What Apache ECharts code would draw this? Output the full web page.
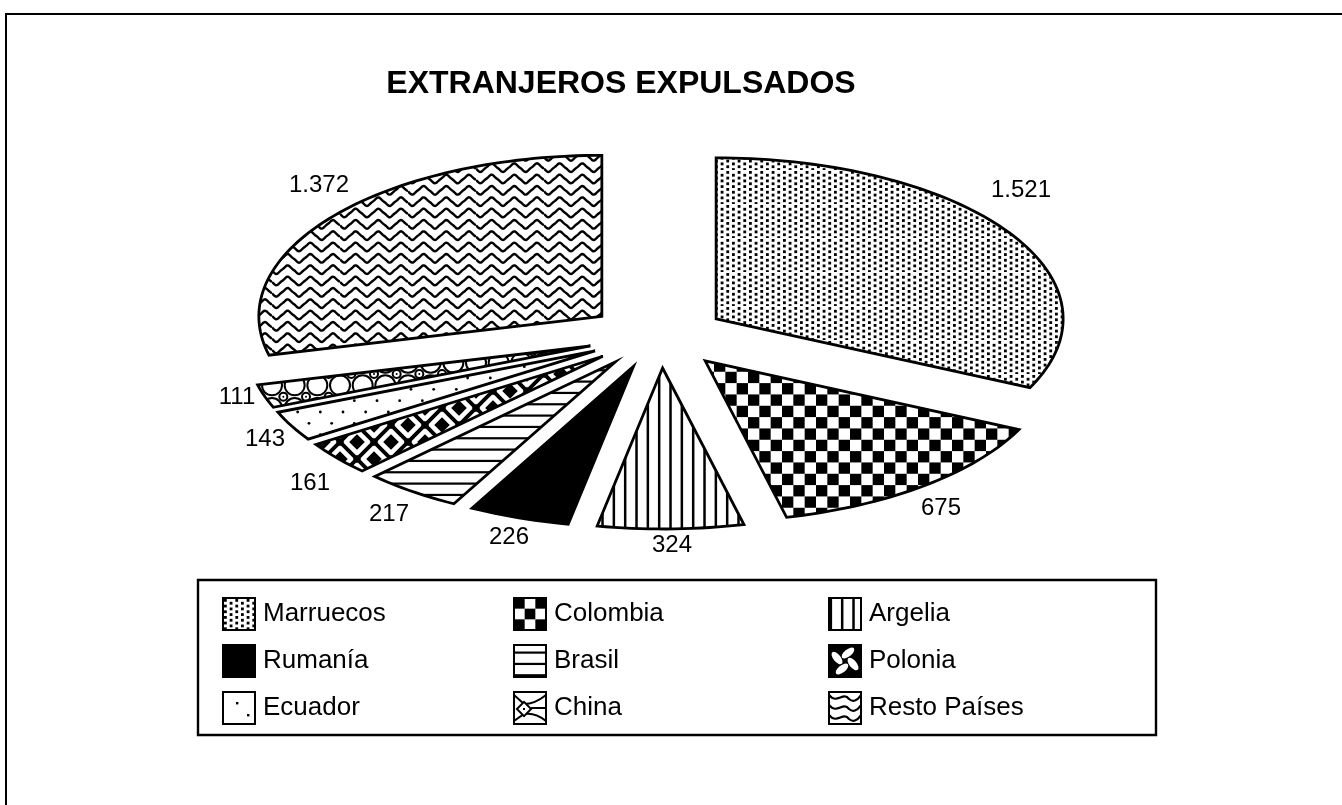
<!DOCTYPE html>
<html>
<head>
<meta charset="utf-8">
<style>
  html, body { margin: 0; padding: 0; background: #fff; }
  #chart { width: 1342px; height: 805px; }
</style>
<script src="https://cdn.jsdelivr.net/npm/echarts@6/dist/echarts.min.js"></script>
</head>
<body>
<div id="chart"></div>
<script>
var titleText = 'EXTRANJEROS EXPULSADOS';
var countries = ['Marruecos', 'Colombia', 'Argelia', 'Rumanía', 'Brasil', 'Polonia', 'Ecuador', 'China', 'Resto Países'];
var expelled = [1521, 675, 324, 226, 217, 161, 143, 111, 1372];
var legendColumns = [
    ['Marruecos', 'Rumanía', 'Ecuador'],
    ['Colombia', 'Brasil', 'China'],
    ['Argelia', 'Polonia', 'Resto Países']
];

// layout, measured on the reference
var cx = 657, cy = 336, rxRight = 347, rxLeft = 343, ry = 161;
var explodeX = 70, explodeY = 32;
var nudgeX = [0, 4, 4, 0, 0, 0, 0, 0, 0];
var labelX = [1021, 941, 672, 509, 389, 310, 265, 237, 319];
var labelY = [190, 508, 545, 537, 514, 483, 439, 397, 185];
var FONT = '"Liberation Sans", Arial, sans-serif';

var total = expelled.reduce(function (a, b) { return a + b; }, 0);

function makeTile(w, h, draw) {
    var c = document.createElement('canvas');
    c.width = w;
    c.height = h;
    var ctx = c.getContext('2d');
    ctx.fillStyle = '#fff';
    ctx.fillRect(0, 0, w, h);
    ctx.fillStyle = '#000';
    ctx.strokeStyle = '#000';
    draw(ctx);
    return { image: c, repeat: 'repeat' };
}

var U = 34 / 3; // the hatch unit of the original

function drawRing(ctx, x, y) {
    ctx.beginPath();
    ctx.arc(x, y, 4, 0, Math.PI * 2);
    ctx.stroke();
    ctx.beginPath();
    ctx.arc(x, y, 1, 0, Math.PI * 2);
    ctx.fill();
}

var patterns = {
    'Marruecos': makeTile(34, 34, function (ctx) {
        for (var i = 0; i < 6; i++) {
            for (var j = 0; j < 6; j++) {
                ctx.fillRect(i * U / 2 + 1, j * U / 2 + (i % 2) * U / 4 + 1, 2.8, 2.8);
            }
        }
    }),
    'Colombia': makeTile(68, 68, function (ctx) {
        for (var i = 0; i < 6; i++) {
            for (var j = -1; j < 6; j++) {
                if ((i + j + 6) % 2 === 0) ctx.fillRect(i * U, j * U + 9.1, U, U);
            }
        }
    }),
    'Argelia': makeTile(34, 34, function (ctx) {
        for (var i = 0; i < 3; i++) ctx.fillRect(i * U + 0.6, 0, 2.5, 34);
    }),
    'Rumanía': makeTile(4, 4, function (ctx) {
        ctx.fillRect(0, 0, 4, 4);
    }),
    'Brasil': makeTile(34, 34, function (ctx) {
        for (var i = 0; i < 3; i++) ctx.fillRect(0, i * U + 6.5, 34, 2.2);
    }),
    'Polonia': makeTile(34, 34, function (ctx) {
        ctx.fillRect(0, 0, 34, 34);
        ctx.fillStyle = '#fff';
        [[8.5, 8.5, 1], [25.5, 8.5, -1], [8.5, 25.5, -1], [25.5, 25.5, 1]].forEach(function (b) {
            ctx.save();
            ctx.translate(b[0], b[1]);
            ctx.rotate(b[2] * Math.PI / 4);
            ctx.fillRect(-9, -6.5, 18, 4.6);
            ctx.fillRect(-9, 1.9, 18, 4.6);
            ctx.restore();
        });
    }),
    'Ecuador': makeTile(68, 68, function (ctx) {
        for (var i = 0; i < 3; i++) {
            for (var j = 0; j < 6; j++) {
                var x = i * 2 * U + (j % 2) * U + 3;
                ctx.beginPath();
                ctx.arc(x, j * U + 4, 1.4, 0, Math.PI * 2);
                ctx.fill();
            }
        }
    }),
    'China': makeTile(68, 68, function (ctx) {
        ctx.lineWidth = 2;
        for (var i = 0; i < 4; i++) {
            for (var j = 0; j < 4; j++) {
                ctx.beginPath();
                ctx.arc(i * 2 * U, j * 2 * U, 10, 0, Math.PI * 2);
                ctx.stroke();
                drawRing(ctx, i * 2 * U + U, j * 2 * U + U);
            }
        }
    }),
    'Resto Países': makeTile(68, 34, function (ctx) {
        ctx.lineWidth = 2.4;
        for (var r = -1; r < 4; r++) {
            ctx.beginPath();
            for (var x = 0; x <= 68; x++) {
                var t = (x - 4.3) * 2 * Math.PI / (2 * U);
                var y = r * U + 9 + 3.9 * (Math.cos(t) + 0.11 * Math.cos(3 * t));
                if (x === 0) ctx.moveTo(x, y);
                else ctx.lineTo(x, y);
            }
            ctx.stroke();
        }
    })
};

// the legend boxes show their own crop of the hatch
var swatches = {
    'Colombia': makeTile(32, 32, function (ctx) {
        for (var i = 0; i < 3; i++) {
            for (var j = 0; j < 3; j++) {
                if ((i + j) % 2 === 0) ctx.fillRect(i * 32 / 3, j * 32 / 3, 32 / 3, 32 / 3);
            }
        }
    }),
    'Polonia': makeTile(32, 32, function (ctx) {
        ctx.fillRect(0, 0, 32, 32);
        ctx.fillStyle = '#fff';
        for (var k = 0; k < 4; k++) {
            ctx.save();
            ctx.translate(16, 16);
            ctx.rotate(k * Math.PI / 2);
            ctx.beginPath();
            ctx.ellipse(3, -8, 3.6, 7.5, 0.9, 0, Math.PI * 2);
            ctx.fill();
            ctx.restore();
        }
    }),
    'Ecuador': makeTile(32, 32, function (ctx) {
        ctx.fillRect(13, 10, 2.4, 2.4);
        ctx.fillRect(24, 22, 2.4, 2.4);
    }),
    'China': makeTile(32, 32, function (ctx) {
        ctx.lineWidth = 2;
        ctx.beginPath();
        ctx.moveTo(0, 3);
        ctx.lineTo(10, 12);
        ctx.quadraticCurveTo(21, 12, 32, 3);
        ctx.moveTo(0, 29);
        ctx.lineTo(10, 22);
        ctx.quadraticCurveTo(21, 20, 32, 29);
        ctx.moveTo(17, 16);
        ctx.lineTo(32, 16);
        ctx.stroke();
        ctx.save();
        ctx.translate(10, 17);
        ctx.rotate(Math.PI / 4);
        ctx.fillStyle = '#fff';
        ctx.fillRect(-5, -5, 10, 10);
        ctx.strokeRect(-5, -5, 10, 10);
        ctx.restore();
        ctx.fillRect(9, 16, 2, 2);
    }),
    'Resto Países': makeTile(32, 32, function (ctx) {
        ctx.lineWidth = 2.2;
        [3, 13, 23].forEach(function (y0) {
            ctx.beginPath();
            ctx.moveTo(0, y0);
            ctx.bezierCurveTo(8, y0 + 10, 14, y0 - 4, 20, y0 + 4);
            ctx.quadraticCurveTo(26, y0 + 9, 32, y0);
            ctx.stroke();
        });
    })
};

function sliceRenderer(index) {
    var before = 0;
    for (var k = 0; k < index; k++) before += expelled[k];
    var start = before / total * Math.PI * 2;
    var end = (before + expelled[index]) / total * Math.PI * 2;
    var mid = (start + end) / 2;
    var ax = cx + explodeX * Math.sin(mid) + nudgeX[index];
    var ay = cy - explodeY * Math.cos(mid);

    return function (params, api) {
        var pts = [[ax, ay]];
        var steps = Math.max(4, Math.round((end - start) * 40));
        for (var i = 0; i <= steps; i++) {
            var a = start + (end - start) * i / steps;
            var rx = Math.sin(a) >= 0 ? rxRight : rxLeft;
            pts.push([ax + rx * Math.sin(a), ay - ry * Math.cos(a)]);
        }
        var v = api.value(0);
        var txt = v >= 1000 ? Math.floor(v / 1000) + '.' + String(v % 1000).padStart(3, '0') : String(v);
        return {
            type: 'group',
            children: [
                {
                    type: 'polygon',
                    shape: { points: pts },
                    style: { fill: patterns[countries[index]], stroke: '#000', lineWidth: 2.8, lineJoin: 'miter' }
                },
                {
                    type: 'text',
                    x: labelX[index],
                    y: labelY[index],
                    style: { text: txt, fill: '#000', font: '24px ' + FONT, align: 'center', verticalAlign: 'middle' }
                }
            ]
        };
    };
}

var series = countries.map(function (name, i) {
    return {
        name: name,
        type: 'custom',
        coordinateSystem: 'none',
        renderItem: sliceRenderer(i),
        data: [expelled[i]],
        itemStyle: { color: patterns[name], borderColor: '#000', borderWidth: 2.4 },
        animation: false,
        silent: true
    };
});

var legendLeft = [222, 513, 828];
var legend = legendColumns.map(function (names, i) {
    return {
        orient: 'vertical',
        left: legendLeft[i],
        top: 597,
        padding: 0,
        itemWidth: 32,
        itemHeight: 32,
        itemGap: 13,
        icon: 'rect',
        selectedMode: false,
        data: names.map(function (name) {
            return swatches[name] ? { name: name, itemStyle: { color: swatches[name] } } : { name: name };
        }),
        textStyle: { color: '#000', fontSize: 26, fontFamily: FONT, padding: [0, 0, 0, 3] }
    };
});

var chart = echarts.init(document.getElementById('chart'));
chart.setOption({
    backgroundColor: '#fff',
    animation: false,
    title: {
        text: titleText,
        left: 621,
        top: 68,
        textAlign: 'center',
        padding: 0,
        textStyle: { color: '#000', fontSize: 32, fontWeight: 'bold', fontFamily: FONT }
    },
    legend: legend,
    graphic: [
        {
            type: 'polyline',
            shape: { points: [[6, 805], [6, 14], [1342, 14]] },
            style: { fill: null, stroke: '#000', lineWidth: 2 }
        },
        {
            type: 'rect',
            shape: { x: 198, y: 580, width: 958, height: 155 },
            style: { fill: null, stroke: '#000', lineWidth: 2.4 }
        }
    ],
    series: series
});
</script>
</body>
</html>
